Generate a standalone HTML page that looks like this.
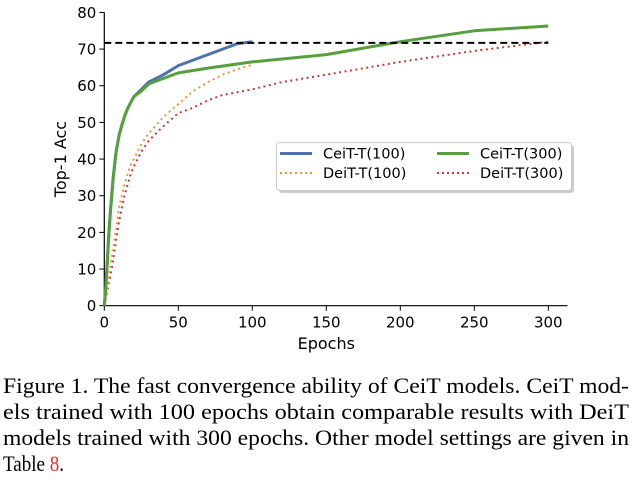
<!DOCTYPE html>
<html><head><meta charset="utf-8"><style>
body{margin:0;background:#fff;}
svg{display:block;}
text{font-family:"DejaVu Sans",sans-serif;}
.cap{font-family:"Liberation Serif",serif;font-size:22px;fill:#000;}
</style></head><body>
<svg id="chart" width="637" height="490">
<g id="axes"></g>
<g id="series"></g>
<g>
 <rect x="279" y="145" width="295" height="48" rx="3" fill="#999" opacity="0.5"/>
 <rect x="276.5" y="142.5" width="295" height="48" rx="3" fill="#fff" stroke="#ccc"/>
 <line x1="280" y1="153.5" x2="312" y2="153.5" stroke="#4c72b0" stroke-width="3"/>
 <text x="323" y="158.5" font-size="14.5">CeiT-T(100)</text>
 <line x1="437" y1="153.5" x2="469" y2="153.5" stroke="#55a03c" stroke-width="3"/>
 <text x="480" y="158.5" font-size="14.5">CeiT-T(300)</text>
 <line x1="280" y1="173" x2="312" y2="173" stroke="#f0923c" stroke-width="2" stroke-dasharray="2,3"/>
 <text x="323" y="178" font-size="14.5">DeiT-T(100)</text>
 <line x1="437" y1="173" x2="469" y2="173" stroke="#c43b35" stroke-width="2" stroke-dasharray="2,3"/>
 <text x="480" y="178" font-size="14.5">DeiT-T(300)</text>
</g>
<g>
 <text class="cap" x="3" y="393" textLength="626" lengthAdjust="spacingAndGlyphs">Figure 1. The fast convergence ability of CeiT models. CeiT mod-</text>
 <text class="cap" x="3" y="419" textLength="626" lengthAdjust="spacingAndGlyphs">els trained with 100 epochs obtain comparable results with DeiT</text>
 <text class="cap" x="3" y="445" textLength="626" lengthAdjust="spacingAndGlyphs">models trained with 300 epochs. Other model settings are given in</text>
 <text class="cap" x="3" y="471" textLength="61" lengthAdjust="spacingAndGlyphs">Table <tspan fill="#e8312a">8</tspan>.</text>
</g>
</svg>
<script>
const xTicks=[0,50,100,150,200,250,300];
const yTicks=[0,10,20,30,40,50,60,70,80];
const baseline=71.7;
const ceit100X=[0,1,2,3,4,5,6,8,10,12,14,16,18,20,25,30,40,50,60,70,80,90,100];
const ceit100Y=[0,5,12,19,25,30,35,42,46.5,49.5,52,54,55.5,57,59,61,63,65.5,67,68.5,70,71.5,72];
const ceit300X=[0,1,2,3,4,5,6,8,10,12,14,16,18,20,25,30,40,50,70,100,150,200,250,300];
const ceit300Y=[0,5,12,19,25,30,35,42,46.5,49.5,52,54,55.5,57,58.5,60.5,62,63.5,64.8,66.5,68.5,72,75,76.3];
const deit100X=[0,3,5,8,10,13,15,18,20,25,30,40,50,60,70,80,90,100];
const deit100Y=[0,8,13,21,27,32,35,38.5,40,44,47,51.5,55,58.5,61,63,64.5,65.7];
const deit300X=[0,3,5,8,10,13,15,18,20,25,30,40,50,60,70,80,100,120,150,200,250,300];
const deit300Y=[0,6,10,18,23,29,32,36,38,42,45,49,52.5,54,56,57.5,59,61,63,66.5,69.5,72];

const NS='http://www.w3.org/2000/svg';
const X0=104.3,XS=1.48,Y0=305.7,YS=3.666;
const sx=v=>X0+v*XS, sy=v=>Y0-v*YS;
function mk(tag,attrs,parent){const e=document.createElementNS(NS,tag);for(const k in attrs)e.setAttribute(k,attrs[k]);parent.appendChild(e);return e;}
const ax=document.getElementById('axes'), se=document.getElementById('series');
let l=mk('line',{x1:sx(0),y1:sy(80),x2:sx(0),y2:Y0,stroke:'#000','stroke-width':1.2},ax);


l=mk('line',{x1:sx(0),y1:Y0,x2:sx(313),y2:Y0,stroke:'#000','stroke-width':1.2},ax);


xTicks.forEach(t=>{mk('line',{x1:sx(t),y1:Y0,x2:sx(t),y2:Y0+5,stroke:'#000'},ax);
 const tx=mk('text',{x:sx(t),y:Y0+22,'font-size':15,'text-anchor':'middle'},ax);tx.textContent=t;
 
 });
yTicks.forEach(t=>{mk('line',{x1:sx(0)-5,y1:sy(t),x2:sx(0),y2:sy(t),stroke:'#000'},ax);
 const tx=mk('text',{x:sx(0)-8,y:sy(t)+5.5,'font-size':15,'text-anchor':'end'},ax);tx.textContent=t;
 
 });
let t=mk('text',{x:sx(150),y:349,'font-size':16,'text-anchor':'middle'},ax);t.textContent='Epochs';


t=mk('text',{x:0,y:0,'font-size':16,'text-anchor':'middle',transform:`translate(66,${sy(40)}) rotate(-90)`},ax);t.textContent='Top-1 Acc';


function path(xs,ys,style,name){const d=xs.map((x,i)=>(i?'L':'M')+sx(x).toFixed(1)+','+sy(ys[i]).toFixed(1)).join('');
 const p=mk('path',Object.assign({d,fill:'none','stroke-linejoin':'round'},style),se);
 
 }
path(deit300X,deit300Y,{stroke:'#c43b35','stroke-width':2,'stroke-dasharray':'2,3.5'},'deit300-line');
path(deit100X,deit100Y,{stroke:'#f0923c','stroke-width':2,'stroke-dasharray':'2,3.5'},'deit100-line');
path(ceit100X,ceit100Y,{stroke:'#4c72b0','stroke-width':3},'ceit100-line');
path(ceit300X,ceit300Y,{stroke:'#55a03c','stroke-width':3},'ceit300-line');
l=mk('line',{x1:sx(0),y1:sy(baseline),x2:sx(300),y2:sy(baseline),stroke:'#000','stroke-width':2,'stroke-dasharray':'7,4'},se);


</script>
</body></html>
